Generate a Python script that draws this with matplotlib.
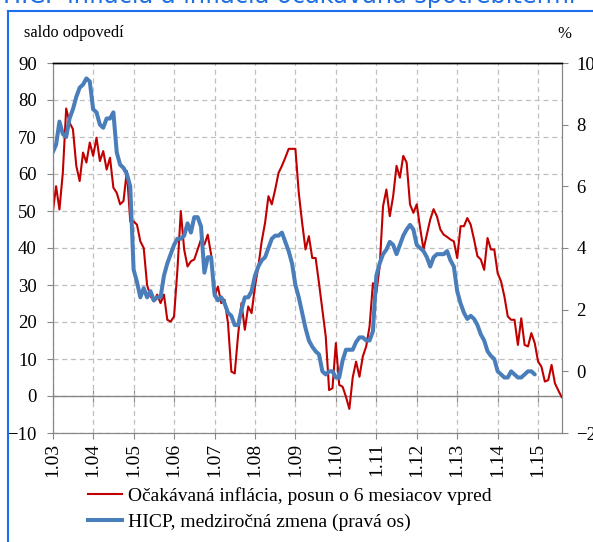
import matplotlib
matplotlib.use("Agg")
import matplotlib.pyplot as plt
from matplotlib.lines import Line2D
import numpy as np

# ---- data ----
tick_labels = ["1.03", "1.04", "1.05", "1.06", "1.07", "1.08", "1.09",
               "1.10", "1.11", "1.12", "1.13", "1.14", "1.15"]

# Expected inflation (balance of responses), shifted 6 months ahead, monthly from Jan 2003
expected = [49.5, 56.7, 50.4, 60.3, 77.7, 73.9, 72.1, 62.2, 58.1, 65.8, 63.1, 68.5,
            64.9, 69.8, 63.5, 66.2, 61.2, 64.4, 56.3, 54.9, 51.8, 52.7, 60.8, 47.2,
            47.2, 46.3, 41.8, 40.0, 30.0, 27.0, 25.6, 27.4, 25.1, 27.4, 20.6, 20.1,
            21.5, 34.1, 50.0, 39.6, 35.0, 36.4, 36.9, 39.6, 42.3, 40.9, 43.6, 38.2,
            26.9, 29.6, 25.1, 26.0, 19.7, 6.6, 6.1, 16.5, 25.1, 17.9, 24.2, 22.4,
            29.6, 35.0, 41.8, 46.8, 54.0, 51.8, 55.8, 60.3, 62.2, 64.4, 66.8, 66.8,
            66.8, 54.9, 46.8, 39.6, 43.2, 37.3, 37.3, 30.5, 23.3, 16.1, 1.6, 2.1,
            14.3, 3.0, 2.5, -0.2, -3.5, 5.0, 9.3, 5.2, 10.7, 13.4, 18.8, 30.5,
            27.8, 35.0, 51.3, 55.8, 48.6, 54.0, 62.2, 59.0, 64.9, 63.1, 51.8, 49.5,
            51.8, 45.4, 39.6, 43.6, 47.7, 50.5, 48.5, 45.0, 43.6, 43.0, 42.3, 41.8,
            37.3, 45.9, 45.9, 48.1, 46.3, 42.3, 37.8, 36.9, 34.1, 42.7, 39.6, 39.6,
            33.2, 31.0, 26.9, 21.5, 20.6, 20.6, 13.8, 21.0, 13.8, 13.4, 17.0, 14.3,
            9.3, 7.9, 3.9, 4.3, 8.4, 3.4, 1.5, -0.3]

# HICP year-on-year change (%), monthly from Jan 2003
hicp = [7.1, 7.35, 8.1, 7.7, 7.6, 8.2, 8.5, 8.9, 9.2, 9.3, 9.5, 9.4,
        8.5, 8.4, 8.0, 7.9, 8.2, 8.2, 8.4, 7.1, 6.7, 6.6, 6.4, 6.0,
        3.3, 2.9, 2.4, 2.7, 2.4, 2.6, 2.3, 2.4, 2.4, 3.1, 3.5, 3.8,
        4.1, 4.3, 4.3, 4.4, 4.8, 4.5, 5.0, 5.0, 4.7, 3.2, 3.7, 3.7,
        2.5, 2.3, 2.4, 2.2, 1.9, 1.8, 1.5, 1.5, 2.0, 2.4, 2.4, 2.6,
        3.1, 3.4, 3.6, 3.7, 4.0, 4.3, 4.4, 4.4, 4.5, 4.2, 3.9, 3.5,
        2.8, 2.4, 1.9, 1.4, 1.0, 0.8, 0.65, 0.55, 0.0, -0.1, 0.0, 0.0,
        -0.2, -0.2, 0.35, 0.7, 0.7, 0.7, 0.95, 1.1, 1.1, 1.0, 1.0, 1.3,
        3.1, 3.5, 3.8, 3.95, 4.2, 4.1, 3.8, 4.1, 4.4, 4.6, 4.75, 4.6,
        4.1, 4.0, 3.9, 3.7, 3.4, 3.7, 3.8, 3.8, 3.8, 3.9, 3.6, 3.4,
        2.6, 2.2, 1.9, 1.7, 1.8, 1.7, 1.5, 1.2, 1.0, 0.65, 0.5, 0.4,
        0.0, -0.1, -0.2, -0.2, 0.0, -0.1, -0.2, -0.2, -0.1, 0.0, 0.0, -0.1]

label_expected = "Očakávaná inflácia, posun o 6 mesiacov vpred"
label_hicp = "HICP, medziročná zmena (pravá os)"

# ---- style ----
RED = "#C00000"
BLUE = "#4A7EBB"
GRID = "#BFBFBF"
AXC = "#868686"
FRAME = "#1A6EF0"
serif = ["Liberation Serif", "DejaVu Serif"]

W, H = 593, 542
fig = plt.figure(figsize=(W / 100, H / 100), dpi=100)

def fx(px):
    return px / W

def fy(py):
    return 1 - py / H

x0, x1, ytop, ybot = 52.7, 561.7, 63.0, 433.0
ax = fig.add_axes([fx(x0), fy(ybot), fx(x1) - fx(x0), fy(ytop) - fy(ybot)])
ax2 = ax.twinx()

xe = np.arange(len(expected))
xh = np.arange(len(hicp))

ax.plot(xe, expected, color=RED, lw=1.5, solid_joinstyle="round")
ax2.plot(xh, hicp, color=BLUE, lw=2.9, solid_joinstyle="round", solid_capstyle="round")

ax.set_xlim(0, 151)
ax.set_ylim(-10, 90)
ax2.set_ylim(-2, 10)

ax.set_yticks(np.arange(-10, 91, 10))
ax2.set_yticks(np.arange(-2, 11, 2))
ticks = np.arange(len(tick_labels)) * 12
ax.set_xticks(ticks)
ax.set_xticklabels(tick_labels, rotation=90, fontfamily=serif, fontsize=14)

for lab in ax.get_yticklabels():
    lab.set_fontfamily(serif)
    lab.set_fontsize(13.5)
for lab in ax2.get_yticklabels():
    lab.set_fontfamily(serif)
    lab.set_fontsize(13.5)

ax.grid(True, color=GRID, ls=(0, (4, 3)), lw=0.9)
ax.set_axisbelow(True)
ax.axhline(0, color=AXC, lw=1.0, zorder=1.5)

ax.tick_params(axis="y", direction="out", length=4.5, color=AXC, pad=7)
ax.tick_params(axis="x", direction="out", length=4, color=AXC, pad=3)
ax2.tick_params(axis="y", direction="out", length=4.5, color=AXC, pad=6)

# small ticks crossing the zero line
sec = ax.secondary_xaxis(0.1)
sec.set_xticks(ticks)
sec.tick_params(axis="x", direction="inout", length=8, color=AXC, labelbottom=False)
sec.spines["bottom"].set_visible(False)

for a in (ax, ax2):
    a.spines["left"].set_color(AXC)
    a.spines["right"].set_color(AXC)
    a.spines["bottom"].set_color(AXC)
    a.spines["top"].set_color("black")
    a.spines["top"].set_linewidth(1.0)

# axis unit labels
fig.text(fx(24), fy(33), "saldo odpovedí", fontfamily=serif, fontsize=11.7,
         ha="left", va="center")
fig.text(fx(564), fy(34), "%", fontfamily=serif, fontsize=12,
         ha="center", va="center")

# title (cut off at the top)
fig.text(fx(3), fy(3.5), "HICP inflácia a inflácia očakávaná spotrebiteľmi",
         color="#1F6FE0", fontfamily="DejaVu Sans", fontsize=17.3,
         ha="left", va="baseline")

# blue frame
fig.add_artist(Line2D([fx(8), fx(8)], [fy(11), 0], transform=fig.transFigure,
                      color=FRAME, lw=1.5))
fig.add_artist(Line2D([fx(8), 1], [fy(11), fy(11)], transform=fig.transFigure,
                      color=FRAME, lw=1.5))

handles = [Line2D([], [], color=RED, lw=1.5), Line2D([], [], color=BLUE, lw=2.9)]
fig.legend(handles, [label_expected, label_hicp], loc="center left",
           bbox_to_anchor=(fx(88), fy(509)), frameon=False,
           prop={"family": serif, "size": 14}, handlelength=1.75,
           handletextpad=0.3, labelspacing=0.45, borderaxespad=0, borderpad=0)

fig.savefig("out.png", dpi=100)
